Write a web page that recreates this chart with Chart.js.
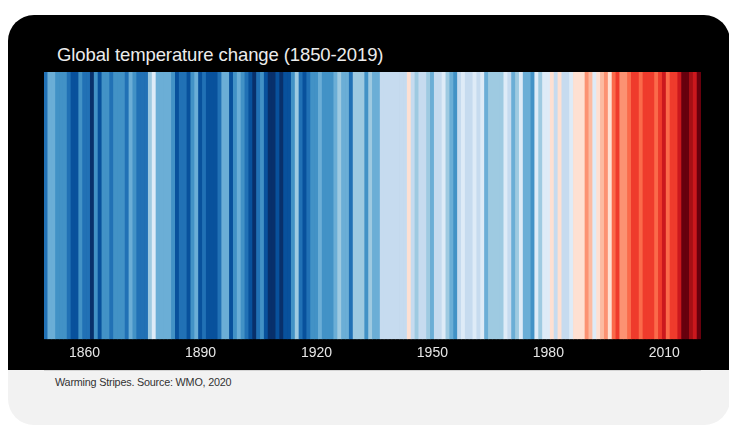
<!DOCTYPE html>
<html>
<head>
<meta charset="utf-8">
<script src="https://cdn.jsdelivr.net/npm/chart.js@4.4.1/dist/chart.umd.min.js"></script>
<style>
  html, body { margin: 0; padding: 0; background: #fff; }
  body { width: 729px; height: 427px; position: relative; overflow: hidden; font-family: "Liberation Sans", Arial, sans-serif; }
  .card { position: absolute; left: 8px; top: 15px; width: 722px; height: 410px; border-radius: 26px; background: #f2f2f2; overflow: hidden; }
  .dark { position: absolute; left: 0; top: 0; width: 100%; height: 355px; background: #000; }
  .rule { position: absolute; left: 36px; top: 355px; width: 657px; height: 1px; background: #d4d4d4; }
  .title { position: absolute; left: 57px; top: 44px; color: #ececec; font-size: 18.5px; letter-spacing: -0.1px; }
  .caption { position: absolute; left: 55px; top: 376px; color: #333; font-size: 10.8px; letter-spacing: -0.2px; }
  #chart { position: absolute; left: 0; top: 0; }
</style>
</head>
<body>
<div class="card"><div class="dark"></div><div class="rule"></div></div>
<div class="title">Global temperature change (1850-2019)</div>
<div class="caption">Warming Stripes. Source: WMO, 2020</div>
<canvas id="chart" width="729" height="427"></canvas>
<script>
// annual global anomaly (°C), 1850-2019, read decade by decade from the stripes
const anomaly = [
  -0.373, -0.218, -0.228, -0.269, -0.248, -0.272, -0.358, -0.461, -0.467, -0.284,
  -0.343, -0.407, -0.524, -0.278, -0.494, -0.279, -0.251, -0.321, -0.238, -0.262,
  -0.276, -0.335, -0.227, -0.304, -0.368, -0.395, -0.384, -0.075, 0.035, -0.230,
  -0.227, -0.200, -0.213, -0.296, -0.409, -0.389, -0.367, -0.418, -0.307, -0.171,
  -0.416, -0.330, -0.455, -0.473, -0.410, -0.390, -0.186, -0.206, -0.412, -0.289,
  -0.203, -0.259, -0.402, -0.479, -0.520, -0.377, -0.283, -0.465, -0.511, -0.522,
  -0.490, -0.544, -0.437, -0.424, -0.244, -0.141, -0.383, -0.468, -0.333, -0.275,
  -0.247, -0.187, -0.302, -0.276, -0.294, -0.215, -0.108, -0.210, -0.206, -0.350,
  -0.137, -0.087, -0.137, -0.273, -0.131, -0.178, -0.147, -0.026, -0.006, -0.052,
  0.014, 0.020, -0.027, -0.004, 0.144, 0.025, -0.071, -0.038, -0.039, -0.074,
  -0.173, -0.052, 0.028, 0.097, -0.129, -0.190, -0.267, -0.007, 0.046, 0.017,
  -0.049, 0.038, 0.014, 0.048, -0.223, -0.140, -0.068, -0.074, -0.113, 0.032,
  -0.027, -0.186, -0.065, 0.062, -0.214, -0.149, -0.241, 0.047, -0.062, 0.057,
  0.092, 0.140, 0.011, 0.194, -0.014, -0.030, 0.045, 0.192, 0.198, 0.118,
  0.296, 0.254, 0.105, 0.148, 0.208, 0.325, 0.183, 0.390, 0.539, 0.306,
  0.294, 0.441, 0.496, 0.505, 0.447, 0.545, 0.506, 0.491, 0.395, 0.506,
  0.560, 0.425, 0.470, 0.514, 0.579, 0.763, 0.797, 0.677, 0.597, 0.736
];
const firstYear = 1850;
const years = anomaly.map((_, i) => String(firstYear + i));
const tickYears = ["1860", "1890", "1920", "1950", "1980", "2010"];

const palette = [
  "#08306b", "#08519c", "#2171b5", "#4292c6", "#6baed6", "#9ecae1", "#c6dbef", "#deebf7",
  "#fee0d2", "#fcbba1", "#fc9272", "#fb6a4a", "#ef3b2c", "#cb181d", "#a50f15", "#67000d"
];
const colorMin = -0.5825;
const colorMax = 0.8175;

const stripeColor = (v) => {
  let i = Math.floor((v - colorMin) / (colorMax - colorMin) * palette.length);
  return palette[Math.max(0, Math.min(palette.length - 1, i))];
};

new Chart(document.getElementById("chart"), {
  type: "bar",
  data: {
    labels: years,
    datasets: [{
      data: anomaly.map(() => 1),
      backgroundColor: anomaly.map(stripeColor),
      borderWidth: 0,
      barPercentage: 1,
      categoryPercentage: 1,
      inflateAmount: 0.4
    }]
  },
  options: {
    responsive: false,
    animation: false,
    layout: { padding: { left: 44, right: 28, top: 72, bottom: 59 } },
    plugins: { legend: { display: false }, tooltip: { enabled: false } },
    scales: {
      x: {
        grid: { display: false, drawTicks: false },
        border: { display: false },
        ticks: {
          autoSkip: false,
          maxRotation: 0,
          padding: 6,
          color: "#e6e6e6",
          font: { family: "Liberation Sans", size: 14 },
          callback: function (value) {
            const label = this.getLabelForValue(value);
            return tickYears.includes(label) ? label : null;
          }
        }
      },
      y: { display: false, min: 0, max: 1 }
    }
  }
});
</script>
</body>
</html>
